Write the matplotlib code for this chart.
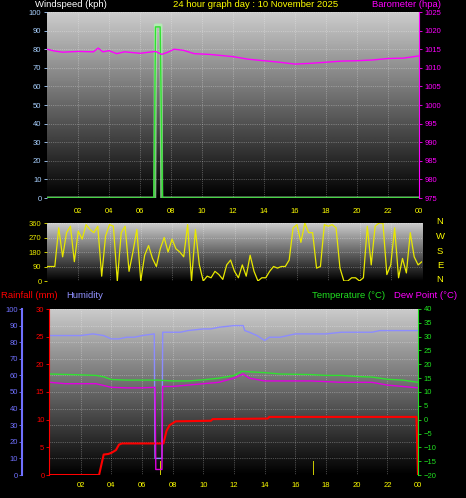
import numpy as np
import matplotlib
matplotlib.use("Agg")
import matplotlib.pyplot as plt

plt.rcParams["font.family"] = ["Liberation Sans", "DejaVu Sans"]

# ---- data (hours since midnight) ----
gust_t = [0, 6.95, 7.0, 7.35, 7.4, 24]
gust_v = [0, 0, 93, 93, 0, 0]
wind_t = [0, 6.9, 7.0, 7.3, 7.45, 24]
wind_v = [0, 0, 92, 92, 0, 0]

baro_t = [0, 0.5, 1.0, 2.0, 3.0, 3.3, 3.6, 4.0, 4.5, 5.0, 6.0, 7.0, 7.4, 7.8, 8.2, 8.8, 9.5, 10.5, 11.5, 12.0, 13.0, 14.0, 15.0, 16.0, 17.0, 18.0, 19.0, 20.0, 21.0, 22.0, 23.0, 24.0]
baro_v = [1015, 1014.5, 1014.2, 1014.4, 1014.3, 1015.3, 1014.3, 1014.6, 1013.8, 1014.3, 1013.9, 1014.4, 1013.6, 1014.2, 1015.0, 1014.7, 1013.8, 1013.6, 1013.2, 1013.0, 1012.3, 1011.9, 1011.5, 1011.0, 1011.2, 1011.5, 1011.8, 1011.9, 1012.1, 1012.5, 1012.6, 1013.2]

dir_t = np.arange(0, 24.01, 0.25)
dir_v = [90, 90, 90, 330, 150, 300, 340, 120, 310, 260, 350, 320, 300, 340, 30, 280, 350, 340, 0, 300, 340, 60, 180, 320, 0, 160, 220, 140, 90, 200, 270, 180,
         260, 200, 180, 150, 350, 0, 320, 100, 0, 30, 20, 60, 40, 10, 100, 130, 60, 20, 100, 30, 160, 60, 0, 20, 20, 60, 90, 80, 90, 90, 130, 330,
         350, 240, 360, 300, 300, 80, 90, 350, 340, 350, 330, 80, 0, 0, 20, 20, 0, 20, 340, 100, 340, 360, 360, 40, 100, 330, 20, 140, 50, 300, 150, 100, 120]

hum_t = [0, 2.0, 2.8, 3.5, 4.0, 4.5, 5.0, 5.5, 6.0, 6.8, 6.85, 7.3, 7.35, 8.0, 8.5, 9.0, 10.0, 10.5, 11.0, 12.0, 12.6, 12.7, 13.0, 13.5, 14.0, 14.3, 15.0, 16.0, 17.0, 18.0, 19.0, 20.0, 21.0, 21.5, 22.0, 24.0]
hum_v = [84, 84, 85, 84, 82, 82, 83, 83, 84, 85, 10, 10, 86, 86, 86, 87, 88, 88, 89, 90, 90, 87, 86, 84, 81, 83, 83, 85, 85, 85, 86, 86, 86, 87, 87, 87]

temp_t = [0, 2.0, 3.0, 3.5, 4.0, 5.0, 7.0, 8.0, 9.0, 10.0, 11.0, 12.0, 12.5, 13.0, 14.0, 15.0, 16.0, 17.0, 18.0, 19.0, 20.0, 21.0, 22.0, 23.0, 24.0]
temp_v = [16.5, 16.2, 16.0, 15.5, 14.5, 14.3, 14.3, 14.0, 14.0, 14.4, 15.0, 16.0, 17.5, 17.3, 17.0, 16.5, 16.4, 16.3, 16.0, 16.0, 15.6, 15.4, 14.6, 14.3, 13.5]

dew_t = [0, 1.0, 2.0, 3.0, 4.0, 5.0, 6.0, 6.85, 6.9, 7.3, 7.35, 8.0, 9.0, 10.0, 11.0, 12.0, 12.6, 13.0, 14.0, 15.0, 17.0, 19.0, 21.0, 22.0, 23.0, 24.0]
dew_v = [13.5, 13.0, 13.0, 13.0, 11.7, 11.5, 11.5, 11.7, -18.0, -18.0, 12.0, 12.0, 12.5, 13.0, 13.5, 15.0, 16.5, 15.0, 14.0, 14.0, 14.0, 13.5, 13.5, 12.5, 12.0, 11.5]

rain_t = [0, 3.2, 3.5, 3.8, 4.0, 4.3, 4.5, 4.7, 7.4, 7.6, 7.8, 8.2, 10.5, 10.6, 14.2, 14.3, 23.9, 24.0]
rain_v = [0, 0, 3.7, 3.8, 4.0, 4.5, 5.5, 5.7, 5.7, 8.0, 9.0, 9.7, 9.8, 10.1, 10.2, 10.5, 10.5, 0]

solar_t = [7.2, 17.2]
solar_v = [2.5, 2.5]

hour_ticks = list(range(2, 25, 2))
hour_labels = [f"{h % 24:02d}" for h in hour_ticks]

BG = "black"
FS = 5.5
TFS = 6.8


def px(x0, y0, x1, y1):
    # pixel box -> figure fraction
    return [x0 / 466, 1 - y1 / 498, (x1 - x0) / 466, (y1 - y0) / 498]


def shade(ax):
    grad = np.linspace(0.8, 0.0, 256).reshape(-1, 1)
    ax.imshow(grad, cmap="gray", vmin=0, vmax=1, aspect="auto", extent=[0, 24, *ax.get_ylim()],
              origin="upper", zorder=0)
    ax.set_xlim(0, 24)
    ax.grid(True, color="white", linestyle=":", linewidth=0.5, alpha=0.5)
    for s in ax.spines.values():
        s.set_visible(False)
    ax.set_facecolor(BG)


def style_ticks(ax, color, side="left", pad=2):
    ax.tick_params(axis="y", colors=color, labelsize=FS, length=2, width=0.6, pad=pad)
    ax.yaxis.set_ticks_position(side)


fig = plt.figure(figsize=(4.66, 4.98), dpi=100, facecolor=BG)

# ---------- top: wind speed + barometer ----------
ax1 = fig.add_axes(px(47, 12, 419, 198))
ax1.set_ylim(0, 100)
ax1.set_yticks(range(0, 101, 10))
shade(ax1)
ax1.plot(gust_t, gust_v, color="#b0ffb0", lw=2.2, alpha=0.7, zorder=3)
ax1.plot(wind_t, wind_v, color="#30e030", lw=1.0, zorder=4)
ax1.set_xticks(hour_ticks)
ax1.tick_params(axis="x", colors="yellow", labelsize=FS, length=0, pad=7)
ax1.set_xticklabels(hour_labels)
style_ticks(ax1, "#a8d0ff")
ax1b = ax1.twinx()
ax1b.set_ylim(975, 1025)
ax1b.set_yticks(range(975, 1026, 5))
for s in ax1b.spines.values():
    s.set_visible(False)
ax1b.spines["right"].set_visible(True)
ax1b.spines["right"].set_color("#ff00ff")
style_ticks(ax1b, "#ff00ff", "right")
ax1b.plot(baro_t, baro_v, color="#ff00ff", lw=1.0)
fig.text(35 / 466, 1, "Windspeed (kph)", color="white", fontsize=TFS, va="top")
fig.text(173 / 466, 1, "24 hour graph day : 10 November 2025", color="yellow", fontsize=TFS, va="top")
fig.text(372 / 466, 1, "Barometer (hpa)", color="#ff00ff", fontsize=TFS, va="top")

# ---------- middle: wind direction ----------
ax2 = fig.add_axes(px(47, 223, 422, 281))
ax2.set_ylim(0, 360)
ax2.set_yticks(range(0, 361, 90))
shade(ax2)
ax2.plot(dir_t, dir_v, color="#e8e800", lw=0.9)
ax2.set_xticks(hour_ticks)
ax2.set_xticklabels([])
ax2.tick_params(axis="x", length=0)
style_ticks(ax2, "#e8e800")
for i, c in enumerate("NWSEN"):
    fig.text(440 / 466, 1 - (222 + i * 14.5) / 498, c, color="yellow", fontsize=TFS, ha="center", va="center")

# ---------- bottom: rain, humidity, temperature, dew point ----------
ax3 = fig.add_axes(px(50, 309, 418, 475))
ax3.set_ylim(0, 100)
ax3.set_yticks(range(0, 101, 10))
shade(ax3)
ax3.spines["left"].set_visible(True)
ax3.spines["left"].set_position(("outward", 20))
ax3.spines["left"].set_color("#7070ff")
ax3.spines["left"].set_linewidth(1.5)
style_ticks(ax3, "#7070ff", pad=1)
ax3.plot(hum_t, hum_v, color="#8c8cff", lw=1.0, zorder=3)
ax3.set_xticks(hour_ticks)
ax3.set_xticklabels(hour_labels)
ax3.tick_params(axis="x", colors="yellow", labelsize=FS, length=0, pad=5)

ax3r = ax3.twinx()
ax3r.set_ylim(0, 30)
ax3r.set_yticks(range(0, 31, 5))
for s in ax3r.spines.values():
    s.set_visible(False)
ax3r.spines["left"].set_visible(True)
ax3r.spines["left"].set_color("red")
ax3r.spines["left"].set_position(("outward", 1))
style_ticks(ax3r, "red", "left", pad=1)
ax3r.bar(solar_t, solar_v, width=0.08, color="#c8c800")
ax3r.plot(rain_t, rain_v, color="red", lw=1.5, zorder=4)

ax3t = ax3.twinx()
ax3t.set_ylim(-20, 40)
ax3t.set_yticks(range(-20, 41, 5))
for s in ax3t.spines.values():
    s.set_visible(False)
ax3t.spines["right"].set_visible(True)
ax3t.spines["right"].set_color("#20e020")
style_ticks(ax3t, "#20e020", "right")
ax3t.plot(temp_t, temp_v, color="#30e030", lw=1.0)
ax3t.plot(dew_t, dew_v, color="#e000e0", lw=1.0)

fig.text(1 / 466, 1 - 296 / 498, "Rainfall (mm)", color="red", fontsize=TFS, va="center")
fig.text(66 / 466, 1 - 296 / 498, "Humidity", color="#9090ff", fontsize=TFS, va="center")
fig.text(312 / 466, 1 - 296 / 498, "Temperature (°C)", color="#20e020", fontsize=TFS, va="center")
fig.text(394 / 466, 1 - 296 / 498, "Dew Point (°C)", color="#ff00ff", fontsize=TFS, va="center")

fig.savefig("out.png", dpi=100, facecolor=BG)
